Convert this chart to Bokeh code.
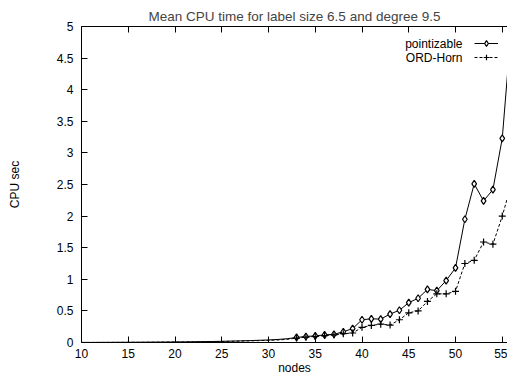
from bokeh.plotting import figure
from bokeh.models import (Range1d, FixedTicker, LinearAxis, Legend, LegendItem,
                          Label, CustomJSTickFormatter, ColumnDataSource)
from bokeh.embed import file_html
from bokeh.resources import INLINE

# ---- data ----
nodes = list(range(10, 57))
pointizable = [0.001, 0.001, 0.002, 0.002, 0.003, 0.003, 0.004, 0.005, 0.006, 0.007,
               0.008, 0.010, 0.012, 0.014, 0.016, 0.019, 0.022, 0.026, 0.030, 0.035,
               0.040, 0.048, 0.060,
               0.08, 0.095, 0.105, 0.12, 0.13, 0.17, 0.22, 0.36, 0.375, 0.37,
               0.45, 0.51, 0.63, 0.70, 0.84, 0.82, 0.98, 1.18, 1.95, 2.51,
               2.24, 2.42, 3.23, 5.05]
ord_horn = [0.001, 0.001, 0.001, 0.002, 0.002, 0.003, 0.003, 0.004, 0.005, 0.006,
            0.007, 0.008, 0.010, 0.012, 0.014, 0.016, 0.019, 0.022, 0.026, 0.030,
            0.034, 0.040, 0.050,
            0.07, 0.085, 0.095, 0.11, 0.12, 0.14, 0.15, 0.24, 0.27, 0.29,
            0.275, 0.36, 0.47, 0.50, 0.65, 0.77, 0.77, 0.81, 1.25, 1.30,
            1.59, 1.555, 2.0, 2.52]
marker_from = 33
x_ticks = [10, 15, 20, 25, 30, 35, 40, 45, 50, 55, 60]
y_ticks = [0, 0.5, 1, 1.5, 2, 2.5, 3, 3.5, 4, 4.5, 5]
series_names = ["pointizable", "ORD-Horn"]
title_text = "Mean CPU time for label size 6.5 and degree 9.5"

FONT = "Liberation Sans"

src = ColumnDataSource(dict(n=nodes, p=pointizable, o=ord_horn))
mk = [i for i, n in enumerate(nodes) if n >= marker_from]
src_m = ColumnDataSource(dict(n=[nodes[i] for i in mk],
                              p=[pointizable[i] for i in mk],
                              o=[ord_horn[i] for i in mk]))

p = figure(width=507, height=377, output_backend="svg", toolbar_location=None,
           x_range=Range1d(10, 55.56), y_range=Range1d(0, 5),
           min_border_left=81, min_border_right=0, min_border_top=26,
           min_border_bottom=35)
p.title.text = title_text
p.title.align = "center"
p.title.text_font = FONT
p.title.text_font_size = "13.5px"
p.title.text_font_style = "normal"
p.title.offset = 0
p.title.standoff = 5

p.grid.visible = False
p.outline_line_color = None
p.background_fill_color = "white"
p.border_fill_color = "white"

for ax in (p.xaxis[0], p.yaxis[0]):
    ax.major_tick_in = 6
    ax.major_tick_out = 0
    ax.minor_tick_in = 0
    ax.minor_tick_out = 0
    ax.axis_line_color = "black"
    ax.major_tick_line_color = "black"
    ax.major_label_text_font = FONT
    ax.major_label_text_font_size = "12px"
    ax.major_label_text_color = "black"
    ax.axis_label_text_font = FONT
    ax.axis_label_text_font_size = "12px"
    ax.axis_label_text_font_style = "normal"
    ax.axis_label_text_color = "black"

p.xaxis.ticker = FixedTicker(ticks=x_ticks)
p.yaxis.ticker = FixedTicker(ticks=y_ticks)
p.yaxis.formatter = CustomJSTickFormatter(code="return tick.toString();")
p.xaxis.axis_label = "nodes"
p.yaxis.axis_label = "CPU sec"
p.xaxis.major_label_standoff = 6
p.xaxis.axis_label_standoff = 0
p.yaxis.major_label_standoff = 8
p.yaxis.axis_label_standoff = 32

top = LinearAxis(ticker=FixedTicker(ticks=x_ticks), major_tick_in=6, major_tick_out=0,
                 minor_tick_in=0, minor_tick_out=0,
                 formatter=CustomJSTickFormatter(code="return '';"),
                 major_label_standoff=0, axis_line_color="black")
p.add_layout(top, "above")

l1 = p.line("n", "p", source=src, line_color="black", line_width=1)
m1 = p.scatter("n", "p", source=src_m, marker="diamond", size=7, line_color="black",
               fill_color="white", line_width=1.2)
l2 = p.line("n", "o", source=src, line_color="black", line_width=1, line_dash="3 2")
m2 = p.scatter("n", "o", source=src_m, marker="cross", size=7, line_color="black",
               line_width=1.2)

legend = Legend(items=[LegendItem(label=" ", renderers=[l1, m1]),
                       LegendItem(label=" ", renderers=[l2, m2])],
                location=(393, 278), glyph_width=24, glyph_height=14,
                label_standoff=0, label_width=0, label_height=14, spacing=0,
                padding=0, margin=0, border_line_color=None,
                background_fill_alpha=0, label_text_font_size="1px")
p.add_layout(legend)

for name, yy in zip(series_names, (299, 285)):
    p.add_layout(Label(x=381, y=yy, x_units="screen", y_units="screen", text=name,
                       text_align="right", text_baseline="middle", text_font=FONT,
                       text_font_size="12px", text_color="black"))

open("out.html", "w").write(file_html(p, INLINE))
